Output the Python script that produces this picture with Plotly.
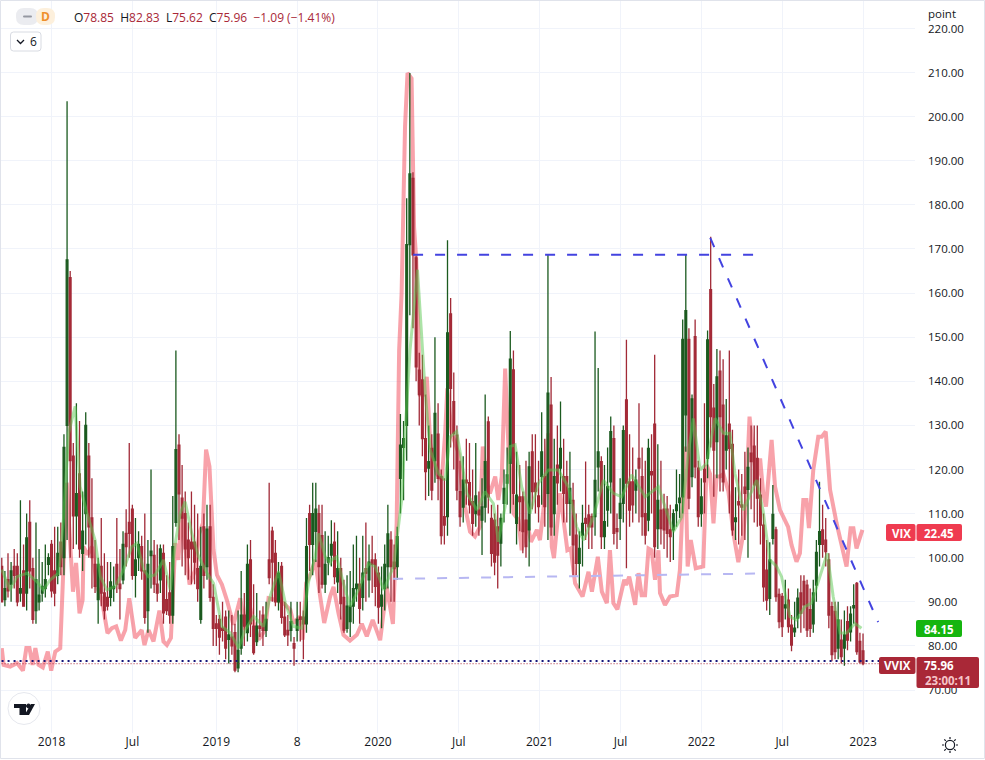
import numpy as np
import pandas as pd
import plotly.graph_objects as go

# Weekly VVIX candles (open, high, low, close)
candles_2017_2019 = [
(98,100,90,90),(90.5,97,89,93),(95,101,91,92.5),(94,99,90,97),(98,102,93,96),(98,101,89,90),(92,113,90,93),(97,103,89,89),
(92,110,88,104.5),(108,113,93,97),(97.5,100,85,86),(88,108,85,95),(90,102,88,91.5),(92,99,90,93.5),(93,103,91,95),(98.5,101,96,100),
(103,104,91,92.5),(97,107,89,92),(96,107,94,101),(103.5,108,96,98),(100,128,96,125),(130,203.5,104,167.5),(163.5,165,100,122),(123,126,102,109.5),
(109.5,135,103,114.5),(119,131,100,102),(101,115,97,106),(110,133,103,130),(123,126,100,107),(109,118,93,100),(98.5,104,92,93.5),(90.5,100,85,98.5),
(98,109,89,92),(92,101,86,88),(91,99,88,89),(91,99,89,94.5),(93,98,90,93.5),(98.5,109,92,94),(94,102,86,93),(95,106,94,103),
(105.5,111,98,102.5),(108,126,100,105.5),(111,112,95,96),(96,109,91,99.5),(100,106,97,103),(102.5,105,95,97),(97,110,85,86.5),(88,104,83,98.5),
(100.5,120,93,101.5),(100.5,104,92,94),(94,103,90,92),(95,103,92,102),(101,103,85,87.5),(90.5,96,87,88),(92,99,85,87),(87,114,85,102.5),
(108,147,107,124.5),(125.5,128,104,114.5),(113.5,121,98,109),(110,115,96,102),(104,108,95,100),(103.5,115,94,102),(103.5,112,94,99),(97.5,110,90,93),
(86,107,85,98),(107,110,93,96),(98,112,95,106.5),(107,112,90,91),(91,94,80,84),(85,87,80,84),(86,87,78,82),(84,90,81,83.5),
(86.5,88,77,79.5),(81.5,88,76,82.5),(82,87,78,80),(83,85,74,74.5),(75,88,74,79),(79.5,97,78,87),(87,92,80,84.5),(83,103,81,98.5),
(99.5,104,82,85),(84.5,94,78,78.5),(81,92,80,84.5),(84.5,88,82,84),(87,89,80,83.5),(83.5,90,82,86),(99.5,117,94,95.5),(106,107,90,99),
(101,104,89,90),(90,99,88,96.5),(98,99,85,86.5),(86.5,90,82,82.5),(83.5,87,80,82.5),(83.5,90,81,85.5),(80.5,82,75.5,79.5),(83.5,90,81,86),
(86.5,90,81,86),(86.5,88,77,85),(85,109,83,102.5),(110,112,97,103),(103,117,96,110),(106,117,99,111),(110,112,92,98),(105,112,93,94),
(94,106,92,98.5),(99,105,96,100),
]
candles_2019_2021 = [
(100.6,108.5,98,103),(103.5,108,94,95.7),(94.5,106,92,97.5),(97.5,100,86,89.6),(91,95,83,83.6),(84,96,83,89),(85.5,97,82,89),(89,103,85,93),
(93,105,90,94),(94,100,85,88.5),(91,105,88,96.5),(97.5,108,90,96.5),(95,103,91,99),(99.5,105,92,98.5),(99.5,101,89,93.5),(96.5,98,85,88.8),
(89,98,84,91.5),(93,103,88,98.5),(98,112,93,105.4),(104,106,90,98),(99,103,90,97.5),(98,107,95,104.8),(118,132.6,110,125.5),(125,131,113,127),
(130,181.5,122,171),(171,209.9,155,187),(186,187.4,152,168.7),(168,168.5,140,143.3),(142.5,146.5,130,137),(140.3,146,123,127),(127,137,113,119.5),(120.3,130,114,121.8),
(124.8,128,113,115.3),(122,150,117,132.7),(128,135,113,118),(118.4,120,103,105),(109.3,118,103,107.4),(109.3,172,105,151),(155.3,158.9,125,138.4),(135.4,142,120,128.2),
(127.8,130,113,115.3),(115,122,107,109.3),(111.5,123,108,117.6),(117.6,127,112,117),(117,126,110,112),(112.7,120,105,107.8),(110,126,107,114),(110.8,115,105,109.7),
(108.5,118,100.6,111.5),(111.5,137,108,121.8),(130.8,132,110,113.8),(108.9,112,98,101),(108.5,110,96,99),(107,112,93,100.6),(103.3,110,98,108.9),(112.3,120,108,115.7),
(116.9,125,112,118.8),(121.4,151.4,110,145),(142.6,147,112,114.6),(107.8,124,103,114.2),(113.8,121,106,112.7),(113.8,115,101,105.9),(108.5,122,100,102.5),(106.3,124,98,120.6),
(124,128,111,115),(116.9,128,110,115),(114,122,108,111.6),(118.4,133,112,124),(118.4,127,107,111.6),(114.6,168.7,104,137.3),(134.6,141,105,107),(110,127,105,118.4),
(121,130,112,117),(120.3,135.4,115,124.8),(118.4,127,108,114.6),(118.4,122,108,112.3),(112.3,124,105,115.7),(113,117,96,102.9),(105.1,110,96,98.7),(98.7,106,93,102.1),
(105.1,112,98,107.8),(108.9,121.8,104,107.8),(109.7,112,102,107),(109.3,110,102,107),(109.3,151.3,105,117.5),(120.6,143,115,124),(121.8,123,102,104.8),(104.8,121,102,108.2),
(110.8,125,107,116.1),(117.2,132,110,128.6),(127,130,103,105.5),(106.6,110,102,105.9),(108.9,118,104,112.3),(112.3,130,108,128.8),(135.8,149.4,97.6,116.9),(117.2,128,107,110.8),
(117.2,125,108,112),(115.3,120,110,117.6),(122.5,135,108,120.3),(118.4,125,105,109.3),(110,122,103,105.1),(108.5,127,106,124.8),(119.5,128,110,118.8),(130.3,146,100,102.5),
(106.6,125.7,102,113),
]
candles_2021_2023 = [
(110.8,122,103,106.6),(111,114.5,102,106.3),(111,114,100,105.5),(106.3,112,99,104.8),(106.3,111,99.5,110),(110.7,120,107,112),(112.5,119,109,113.5),(113.8,154,110,149.5),
(132.4,168.7,124,156),(149.5,152,111,113.5),(118.4,137,116,136),(150.1,154,118,120.6),(120.3,122,107,109.3),(110,118,107,113.8),(120,135,110,117.2),(122.5,151.5,118,149.4),
(160.8,172.8,125,132),(133.9,139.4,113.8,124.4),(126.3,147.3,118,141),(142.3,147,115,132),(134.6,145,115,117.2),(124.4,136,120,127.6),(130.3,147,110,124.8),(125.7,129,105,106.3),
(108.2,116,104,109),(112.7,120,103,112),(112,119,105,111.5),(116,124,104,114.6),(115.5,125,100,120.5),(123.7,130,111,121.8),(125.3,130,108,116.5),(122.5,130,107,113.5),
(114.2,118,103,107.4),(107.4,110,90,93.4),(97.2,104,88,90.4),(90.8,103.5,87,99.5),(104.4,116.5,103,109.8),(106.3,107,90,91.2),(91.7,93,84,85.5),(91.2,92,82,84.4),
(88.6,95,86,89.3),(90.4,93,83,84.4),(84.7,87,78.8,80.2),(83.2,90,82,84),(86.3,93,84,90.8),(92,96,83,87.4),(94.6,96,84,89.3),(93.8,95,82,83.6),
(88.2,93,82,84),(85,95,83,92),(93.8,104,90,101.2),(103,117.2,98,105.9),(106.3,112,100,103),(104,109,98,101.4),(99.5,101,84,87),(88.9,90,76.5,78),
(87.8,90,77,78.7),(79.5,90,77,85.9),(81.3,86,76,77.6),(79.5,88,75.5,82.5),(85.5,89,79,81.3),(83.2,89,81,87.2),(88.6,94,85,89.1),(94.2,94.5,78,78.7),
(81,83,76,76.4),(78.85,82.83,75.62,75.96),
]

# VIX overlay, read as week number and height on the price scale
vix_weeks = [0,0.6,2.7,4.9,6.8,7.9,8.9,9.9,10.8,11.8,13.2,14.8,15.9,17.2,18.8,19.7,20.9,21.8,22.9,23.9,25,26,26.3,27.6,29,30.6,32.2,34,35.4,36.8,38.3,39.7,41,42.9,45,45.9,47.2,48.8,50.7,52,53.1,54.4,55.2,55.8,56.8,57.9,59,60.4,62.2,63.5,64.7,65.7,66.8,68.1,69.2,70.8,72.4,74.5,76.7,78.3,79.4,80.4,82.6,84.7,85.8,88.5,90.6,92.8,93.8,96,96.8,97.9,99.7,100.8,102.4,103.7,105.6,
106.7,108.3,109.9,112,114.2,115.8,117.4,119.3,121.7,123.8,125.8,127,127.8,128.6,129.7,130.5,131.8,132.6,133.3,134.5,135.6,136.7,137.8,139.9,141.5,142.6,143.3,144.7,146.9,147.9,149,150.6,152.2,153.8,154.7,156,157,158.7,159.7,160.8,161.9,163,164.6,166.2,167.2,168.8,170.2,172.1,173.1,174.2,175.8,176.9,177.6,179.6,181.2,181.9,183,184.4,186.8,188.7,189.8,191.7,193,194.6,195.6,196.7,198,200.2,200.8,201.8,203.7,204.8,205.8,206.9,208,209,210.1,211.2,
211.7,213.3,214.9,217.1,218.1,219,219.7,220.6,221.6,223.2,225.6,226.7,227.8,228.9,229.9,231,232.1,233.7,235.3,236.9,238.5,239.3,240.5,241.7,242.8,243.9,244.9,245.8,247.6,248.7,250.3,252.9,254,255.6,256.7,257.8,258.8,259.6,261,262.6,263.7,265,266.4,268.5,271.7,273,273.9,274.9,276.8]
vix_levels = [79.5,75.7,75.3,76.1,74.4,79.5,79.5,75.7,79.5,75.7,75.1,78.7,74.4,78.7,79.5,95,117,105.5,92.3,98.8,87.4,90.4,102.5,100.7,102.5,93.5,90.4,82.9,84,84.4,81.2,83.6,90.8,81.8,83.6,80.2,83.6,81,88,81,80.2,81.8,93.5,103.3,99.5,110,102.5,93.9,97.2,105.5,107.8,124.5,120.7,101.8,96.1,93.9,90.4,84.8,90.8,83.6,90.4,86.7,81.4,83.6,90.8,90.4,89.7,88.2,85.2,86.7,81.4,94.2,96.9,99.5,91.2,85.2,91.2,
93.4,87.4,82.5,81.2,82.5,85,82.2,85.9,81.3,93.4,85,107.8,147.1,160,197.8,209.9,208.7,175,167.5,137,137,141,126,119,117.6,128.2,138.4,128.2,123.7,116.9,111.6,105.9,104.8,107,125.2,116.9,114.6,118.4,113.1,118.4,142.9,124.4,110,108.5,101.7,108.5,103.6,106.3,104,110.8,128.2,102.5,99.9,114.6,106.3,101.7,102.1,94.2,91.2,96.8,92.3,100.2,92.3,89.7,101.7,89.7,88.3,95,93.8,95.7,89.3,96.5,91.5,91.5,102.1,101.7,95,101.7,
92,89.3,91.2,91.5,97.2,115.4,125.2,98,104,97.6,98,121,119,107.8,118.4,118.4,119,115,105.5,99,105.5,112.3,132,123.7,117.6,122.5,114.6,111.6,126.7,116.1,110.8,107,102.9,99.1,101,113.1,113.1,106.7,119.9,127.4,127.4,128.6,115.4,107.8,98,106.7,106.7,102.1,106.3]

# Moving average overlay, read as week number and price
ma_weeks = [0,2.7,4.9,8.1,11.3,13.4,15.6,18.3,19.9,21.5,23.6,25.2,27.4,30,31.7,33.8,36.5,39.2,41.8,43.5,45.6,47.2,49.3,52,54.2,55.8,57.4,59,61.1,63.3,66,68.1,70.8,73.5,76.2,78.3,81,84.2,86.3,89,91.2,93.8,96.5,98.7,100.8,101.9,104,105.6,
106.1,107.7,109.9,112,114.7,117.9,120.1,122.8,126,128.6,129.7,131.3,133.7,135.1,136.2,137.8,140.4,142.6,144.2,146.3,147.9,149.6,152.8,155.4,158.1,159.7,161.9,163.5,165.1,167.2,169.9,172.6,175.8,179,182.2,184.9,187.1,190.3,193.5,196.7,199.4,202.6,206.9,211.2,
213.3,216,218.7,220.8,222.4,224.6,226.7,229.4,232.1,234.2,235.8,238.5,242.8,244.9,247,249.2,250.8,253.5,255.6,258.3,260.4,263.1,265.5,267.4,269.6,271.7,274.4,276.5]
ma_levels = [97.3,92.7,95.7,96.5,94.6,92.7,95,96.5,109.3,128.2,134.3,116.1,110.1,104,95.7,92.7,93.5,97.3,102.5,103.3,97.3,95.7,96.1,99.5,92.7,103.3,110.1,112.7,105.5,100.3,96.5,94.2,84.4,82.9,79.5,83.6,86.7,84.4,91.2,96.9,89.7,84.4,84,94.6,100.3,105.5,100.3,98.8,
99.5,100.2,94.2,88.9,92.7,98.7,98,92.7,98,113,128.2,147,165.3,148.7,137.3,124.4,119.1,117.6,127.4,128.6,121.4,114.6,110.8,115,112.3,103.6,111.6,125.2,125.6,116.1,110,116.9,119.9,119.9,116.1,107,104,109.3,117.6,114.6,113.8,118.8,113.8,116.1,
111.6,105.9,109.3,123.7,131.6,119.9,121.4,131.6,128.2,128.2,119.1,110.8,117.6,110.5,99.5,98,95.7,86.6,85.9,88.9,89.7,95.7,101,91.2,82.9,82.9,85.1,84]

# Drawn levels and trend lines
resistance_dates = ["2020-03-25", "2022-05-04"]
resistance_levels = [168.7, 168.7]
trend_dates = ["2022-01-23", "2023-02-05"]
trend_levels = [172.5, 85.4]
support_dates = ["2020-02-09", "2022-05-04"]
support_levels = [95.2, 96.4]
floor_dates = ["2017-08-01", "2023-02-10"]
floor_levels = [76.6, 76.6]
last_dates = ["2017-08-01", "2023-06-01"]
last_levels = [75.96, 75.96]

tick_dates = ["2018-01-01", "2018-07-02", "2019-01-07", "2019-07-08", "2020-01-06", "2020-07-06",
              "2021-01-04", "2021-07-05", "2022-01-03", "2022-07-04", "2023-01-02"]
tick_labels = ["2018", "Jul", "2019", "8", "2020", "Jul", "2021", "Jul", "2022", "Jul", "2023"]
price_ticks = list(range(70, 221, 10))

ORIGIN = pd.Timestamp("2017-09-11")
def week_dates(weeks):
    return ORIGIN + pd.to_timedelta(np.asarray(weeks, dtype=float) * 7, unit="D")

sections = [(candles_2017_2019, 0, 105), (candles_2019_2021, 106, 211), (candles_2021_2023, 212, 277)]
weeks, rows = [], []
for data, first, last in sections:
    weeks.extend(np.linspace(first, last, len(data)))
    rows.extend(data)
opens, highs, lows, closes = zip(*rows)

FONT = "Open Sans"
INK = "#131722"
PLOT_W, PLOT_H = 915.0, 733.0
def px(x): return x / PLOT_W
def py(y): return 1 - y / PLOT_H

def rrect(x0, y0, x1, y1, r=2):
    return (f"M{px(x0+r)},{py(y0)} L{px(x1-r)},{py(y0)} Q{px(x1)},{py(y0)} {px(x1)},{py(y0+r)} "
            f"L{px(x1)},{py(y1-r)} Q{px(x1)},{py(y1)} {px(x1-r)},{py(y1)} L{px(x0+r)},{py(y1)} "
            f"Q{px(x0)},{py(y1)} {px(x0)},{py(y1-r)} L{px(x0)},{py(y0+r)} Q{px(x0)},{py(y0)} {px(x0+r)},{py(y0)} Z")

def box(x0, y0, x1, y1, fill, line=None, r=2):
    return dict(type="path", xref="paper", yref="paper", path=rrect(x0, y0, x1, y1, r), fillcolor=fill,
                line=dict(color=line or fill, width=1 if line else 0), layer="above")

def poly(points, fill):
    d = "M" + " L".join(f"{px(a)},{py(b)}" for a, b in points) + " Z"
    return dict(type="path", xref="paper", yref="paper", path=d, fillcolor=fill, line=dict(width=0), layer="above")

def stroke(points, color=INK, width=1.3):
    d = "M" + " L".join(f"{px(a)},{py(b)}" for a, b in points)
    return dict(type="path", xref="paper", yref="paper", path=d, line=dict(color=color, width=width), layer="above")

def ring(cx, cy, r, fill, line, width=1):
    return dict(type="circle", xref="paper", yref="paper", x0=px(cx-r), x1=px(cx+r), y0=py(cy+r), y1=py(cy-r),
                fillcolor=fill, line=dict(color=line, width=width), layer="above")

def label(x, y, text, color=INK, size=11.5, anchor="center", bold=False):
    return dict(xref="paper", yref="paper", x=px(x), y=py(y), text=f"<b>{text}</b>" if bold else text, showarrow=False,
                xanchor=anchor, yanchor="middle", font=dict(family=FONT, size=size, color=color))

fig = go.Figure()

# VIX sits under the candles, the moving average and drawings above them
fig.add_trace(go.Scatter(x=week_dates(vix_weeks), y=vix_levels, mode="lines", yaxis="y",
                         line=dict(color="rgba(242,70,85,0.5)", width=4), hoverinfo="skip"))
fig.add_trace(go.Candlestick(x=week_dates(weeks), open=opens, high=highs, low=lows, close=closes, yaxis="y2",
                             increasing=dict(line=dict(color="#1b5a1f", width=1.3), fillcolor="#1b5a1f"),
                             decreasing=dict(line=dict(color="#a12a37", width=1.3), fillcolor="#ae2a38"),
                             whiskerwidth=0, hoverinfo="skip"))
fig.add_trace(go.Scatter(x=week_dates(ma_weeks), y=ma_levels, mode="lines", yaxis="y3",
                         line=dict(color="rgba(90,200,80,0.5)", width=3), hoverinfo="skip"))
for xs, ys, color, width, dash in [
    (support_dates, support_levels, "#b7b7f2", 2, "10px,12px"),
    (resistance_dates, resistance_levels, "#4343e0", 2, "10px,12px"),
    (trend_dates, trend_levels, "#4343e0", 2, "10px,12px"),
    (floor_dates, floor_levels, "#15157a", 2, "2px,4px"),
    (last_dates, last_levels, "#a92837", 1, "1px,2px"),
]:
    fig.add_trace(go.Scatter(x=xs, y=ys, mode="lines", yaxis="y3", hoverinfo="skip",
                             line=dict(color=color, width=width, dash=dash)))

y_range = [60.25, 226.46]
shapes = [
    dict(type="rect", xref="paper", yref="paper", x0=px(0.5), x1=px(984.5), y0=py(0.5), y1=py(758.5),
         line=dict(color="#e0e3eb", width=1), fillcolor="rgba(0,0,0,0)", layer="above"),
    # legend pills
    box(16, 8, 38, 25, "#ebecf0", r=8),
    box(36, 8, 55, 25, "#fdf0dc", r=8),
    box(23, 15.5, 32, 17.5, "#9598a1", r=1),
    # collapse button
    box(10.5, 32, 41, 51, "#ffffff", "#d8dbe2", r=3),
    stroke([(17, 40), (20.5, 43.5), (24, 40)]),
    # logo
    ring(24, 708.5, 16, "#ffffff", "#e6e8ee"),
    poly([(14, 704), (26, 704), (26, 715), (19.5, 715), (19.5, 708), (14, 708)], "#131722"),
    ring(28.5, 706, 2, "#131722", "#131722"),
    poly([(31, 704), (35, 704), (29, 715), (24.5, 715)], "#131722"),
    # price labels
    box(886, 524, 915.5, 541, "#ef3b50"),
    box(916.5, 524, 962, 541, "#ef3b50"),
    box(916, 620, 962, 637, "#15b50f"),
    box(879, 657, 915.5, 674, "#a92837"),
    box(916.5, 657, 979, 688, "#a92837"),
    # settings icon
    ring(950, 745, 4.6, "rgba(0,0,0,0)", INK, 1.2),
]
for a, b in [((950, 737), (950, 739)), ((950, 751), (950, 753)), ((942, 745), (944, 745)), ((956, 745), (958, 745)),
             ((944.3, 739.3), (945.8, 740.8)), ((954.2, 749.2), (955.7, 750.7)), ((955.7, 739.3), (954.2, 740.8)), ((945.8, 749.2), (944.3, 750.7))]:
    shapes.append(stroke([a, b], width=1.2))

RED = "#a92837"
def ohlc(k, v): return f'<span style="color:{INK}">{k}</span><span style="color:{RED}">{v}</span>'
header = "  ".join([ohlc("O", "78.85"), ohlc("H", "82.83"), ohlc("L", "75.62"), ohlc("C", "75.96"),
                    f'<span style="color:{RED}">−1.09 (−1.41%)</span>'])
annotations = [
    label(72, 18, header, anchor="left", size=12),
    label(45, 17, "D", "#ef8f2b", 12, bold=True),
    label(33, 42, "6", INK, 12),
    label(926, 14, "point", INK, anchor="left"),
    label(901, 533, "VIX", "#ffffff", bold=True),
    label(939, 533, "22.45", "#ffffff", bold=True),
    label(939, 629, "84.15", "#ffffff", bold=True),
    label(897, 665.5, "VVIX", "#ffffff", bold=True),
    label(939, 665.5, "75.96", "#ffffff", bold=True),
    label(948, 680, "23:00:11", "#f6c4c9", bold=True),
]

fig.update_layout(
    width=985, height=760, autosize=False, showlegend=False,
    margin=dict(l=0, r=70, t=0, b=27),
    paper_bgcolor="#ffffff", plot_bgcolor="#ffffff",
    font=dict(family=FONT, size=12, color=INK),
    boxgap=0.2,
    xaxis=dict(type="date", range=["2017-09-07", "2023-04-29"], rangeslider=dict(visible=False),
               tickmode="array", tickvals=tick_dates, ticktext=tick_labels, ticks="", showline=False,
               showgrid=True, gridcolor="#f0f3fa", gridwidth=1, zeroline=False, tickfont=dict(size=12, color=INK)),
    yaxis=dict(side="right", range=y_range, tickmode="array", tickvals=price_ticks,
               ticktext=[f"{v:.2f}" for v in price_ticks], ticks="", showline=False, showgrid=True,
               gridcolor="#f0f3fa", gridwidth=1, zeroline=False, ticklabelstandoff=12, tickfont=dict(size=11.5, color=INK)),
    yaxis2=dict(overlaying="y", side="right", range=y_range, visible=False),
    yaxis3=dict(overlaying="y", side="right", range=y_range, visible=False),
    shapes=shapes, annotations=annotations,
)

fig.write_html("out.html", config=dict(displayModeBar=False), post_script="document.body.style.margin='0';")
